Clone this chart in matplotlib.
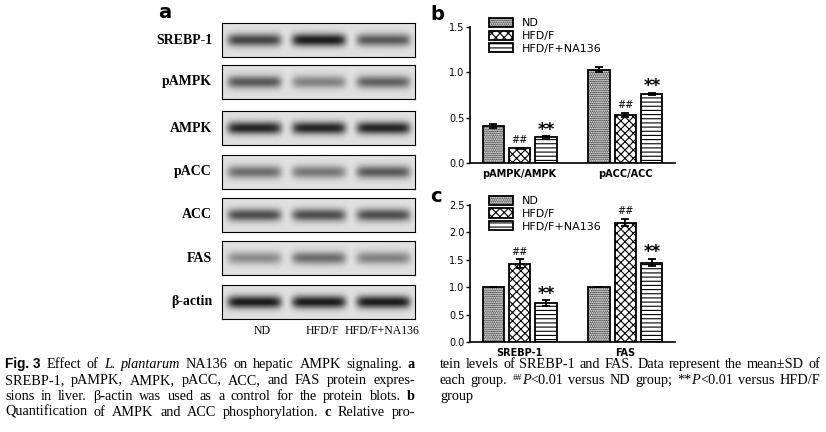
import numpy as np
import matplotlib.pyplot as plt

W, H = 826, 432
fig = plt.figure(figsize=(W / 100, H / 100), dpi=100)
fig.patch.set_facecolor('white')

def ax_px(x0, y0, x1, y1):
    return fig.add_axes([x0 / W, 1 - y1 / H, (x1 - x0) / W, (y1 - y0) / H])

# ---- panel a data: band intensity per lane (ND, HFD/F, HFD/F+NA136)
proteins = ['SREBP-1', 'pAMPK', 'AMPK', 'pACC', 'ACC', 'FAS', 'β-actin']
band_int = [[0.75, 0.95, 0.65],
            [0.65, 0.45, 0.6],
            [0.9, 0.9, 0.9],
            [0.55, 0.5, 0.65],
            [0.7, 0.7, 0.7],
            [0.4, 0.55, 0.45],
            [0.95, 0.95, 0.95]]
lanes = ['ND', 'HFD/F', 'HFD/F+NA136']
row_y = [40, 82, 128, 172, 215, 258, 302]

xs = np.linspace(0, 3, 300)
ys = np.linspace(-1, 1, 60)
X, Y = np.meshgrid(xs, ys)
for name, inten, yc in zip(proteins, band_int, row_y):
    ax = ax_px(222, yc - 17, 415, yc + 17)
    img = np.zeros_like(X)
    for i, v in enumerate(inten):
        img += v * np.exp(-((X - (i + 0.5)) / 0.42) ** 8) * np.exp(-(Y / 0.38) ** 2)
    ax.imshow(0.88 - 0.82 * img, cmap='gray', vmin=0, vmax=1, aspect='auto',
              extent=[0, 3, -1, 1])
    ax.set_xticks([]); ax.set_yticks([])
    for s in ax.spines.values():
        s.set_linewidth(0.8)
    fig.text(212 / W, 1 - yc / H, name, ha='right', va='center',
             family='Liberation Serif', weight='bold', fontsize=10)
for lx, lab in zip([262, 322, 382], lanes):
    fig.text(lx / W, 1 - 331 / H, lab, ha='center', va='center',
             family='Liberation Serif', fontsize=8.5)
fig.text(158 / W, 1 - 13 / H, 'a', weight='bold', fontsize=14, va='center')

# ---- panels b, c
groups = ['ND', 'HFD/F', 'HFD/F+NA136']
hatches = ['.........', 'xxxx', '----']
b_cats = ['pAMPK/AMPK', 'pACC/ACC']
b_vals = [[0.41, 1.03], [0.16, 0.53], [0.29, 0.76]]
b_err = [[0.02, 0.03], [0.01, 0.02], [0.01, 0.015]]
c_cats = ['SREBP-1', 'FAS']
c_vals = [[1.0, 1.0], [1.43, 2.18], [0.71, 1.45]]
c_err = [[0.0, 0.0], [0.08, 0.07], [0.06, 0.07]]

plt.rcParams['hatch.linewidth'] = 0.8

def bar_panel(ax, cats, vals, errs, ymax, yticks):
    x0 = np.array([0.0, 1.6])
    w = 0.4
    for g in range(3):
        xpos = x0 + g * w
        ax.bar(xpos, vals[g], w * 0.8, yerr=errs[g], color='white', edgecolor='black',
               hatch=hatches[g], linewidth=1.3, label=groups[g],
               error_kw=dict(capsize=3, elinewidth=1.3, capthick=1.3))
        for xp, v, e in zip(xpos, vals[g], errs[g]):
            if g == 1:
                ax.text(xp, v + e + ymax * 0.02, '##', ha='center', va='bottom', fontsize=7)
            if g == 2:
                ax.text(xp, v + e - ymax * 0.02, '**', ha='center', va='bottom',
                        fontsize=12, weight='bold')
    ax.set_xticks(x0 + w)
    ax.set_xticklabels(cats, fontsize=7, weight='bold')
    ax.set_xlim(-0.35, 2.75)
    ax.set_ylim(0, ymax)
    ax.set_yticks(yticks)
    ax.set_yticklabels(['%.1f' % t for t in yticks], fontsize=7)
    ax.spines['top'].set_visible(False)
    ax.spines['right'].set_visible(False)
    ax.spines['left'].set_linewidth(1.2)
    ax.spines['bottom'].set_linewidth(1.2)
    ax.tick_params(axis='x', bottom=False, pad=1)
    ax.tick_params(axis='y', length=3, width=1, pad=1)
    ax.legend(loc='upper left', bbox_to_anchor=(0.07, 1.1), frameon=False, fontsize=8,
              handlelength=2.2, handleheight=0.9, labelspacing=0.2, borderaxespad=0)

axb = ax_px(470, 27, 675, 163)
bar_panel(axb, b_cats, b_vals, b_err, 1.5, [0.0, 0.5, 1.0, 1.5])
fig.text(430 / W, 1 - 14 / H, 'b', weight='bold', fontsize=14, va='center')
axc = ax_px(470, 205, 675, 342)
bar_panel(axc, c_cats, c_vals, c_err, 2.5, [0.0, 0.5, 1.0, 1.5, 2.0, 2.5])
fig.text(430 / W, 1 - 196 / H, 'c', weight='bold', fontsize=14, va='center')

# ---- caption, justified word by word; style: r regular, b bold sans, bs bold serif, i italic, s superscript
left_lines = [
    [('Fig. 3', 'b'), ('Effect', 'r'), ('of', 'r'), ('L.', 'i'), ('plantarum', 'i'), ('NA136', 'r'),
     ('on', 'r'), ('hepatic', 'r'), ('AMPK', 'r'), ('signaling.', 'r'), ('a', 'bs')],
    [('SREBP-1,', 'r'), ('pAMPK,', 'r'), ('AMPK,', 'r'), ('pACC,', 'r'), ('ACC,', 'r'), ('and', 'r'),
     ('FAS', 'r'), ('protein', 'r'), ('expres-', 'r')],
    [('sions', 'r'), ('in', 'r'), ('liver.', 'r'), ('β-actin', 'r'), ('was', 'r'), ('used', 'r'), ('as', 'r'),
     ('a', 'r'), ('control', 'r'), ('for', 'r'), ('the', 'r'), ('protein', 'r'), ('blots.', 'r'), ('b', 'bs')],
    [('Quantification', 'r'), ('of', 'r'), ('AMPK', 'r'), ('and', 'r'), ('ACC', 'r'),
     ('phosphorylation.', 'r'), ('c', 'bs'), ('Relative', 'r'), ('pro-', 'r')],
]
right_lines = [
    [('tein', 'r'), ('levels', 'r'), ('of', 'r'), ('SREBP-1', 'r'), ('and', 'r'), ('FAS.', 'r'), ('Data', 'r'),
     ('represent', 'r'), ('the', 'r'), ('mean±SD', 'r'), ('of', 'r')],
    [('each', 'r'), ('group.', 'r'), ('##P<0.01', 'sp'), ('versus', 'r'), ('ND', 'r'), ('group;', 'r'),
     ('**P<0.01', 'ap'), ('versus', 'r'), ('HFD/F', 'r')],
    [('group', 'r')],
]

fig.canvas.draw()
rend = fig.canvas.get_renderer()
FS = 10.3

def put(x, y, txt, style):
    kw = dict(family='Liberation Serif', fontsize=FS, va='baseline')
    if style == 'b':
        kw.update(family='Liberation Sans', weight='bold', fontsize=FS - 0.5)
    elif style == 'bs':
        kw.update(weight='bold')
    elif style == 'i':
        kw.update(style='italic')
    return fig.text(x / W, 1 - y / H, txt, **kw)

def width(t):
    bb = t.get_window_extent(rend)
    return bb.width

def draw_word(x, y, txt, style):
    # returns list of text artists and total width
    parts = []
    if style == 'sp':
        parts = [(txt[:2], 'sup'), (txt[2], 'i'), (txt[3:], 'r')]
    elif style == 'ap':
        parts = [(txt[:2], 'r'), (txt[2], 'i'), (txt[3:], 'r')]
    else:
        parts = [(txt, style)]
    arts = []
    cx = x
    for p, st in parts:
        if st == 'sup':
            t = fig.text(cx / W, 1 - (y - 4) / H, p, family='Liberation Serif', fontsize=FS * 0.65,
                         va='baseline')
        else:
            t = put(cx, y, p, st)
        arts.append(t)
        cx += width(t)
    return arts, cx - x

def justify(lines, x0, x1, y0, last_ragged):
    for li, line in enumerate(lines):
        y = y0 + 16 * li
        items = []
        for txt, st in line:
            arts, w = draw_word(0, y, txt, st)
            items.append((arts, w))
        total = sum(w for _, w in items)
        ragged = last_ragged and li == len(lines) - 1
        gap = 3.0 if ragged or len(items) < 2 else (x1 - x0 - total) / (len(items) - 1)
        cx = x0
        for arts, w in items:
            for a in arts:
                px, py = a.get_position()
                a.set_x(px + cx / W)
            cx += w + gap

justify(left_lines, 5, 415, 368, False)
justify(right_lines, 440, 820, 368, True)

fig.savefig('out.png', dpi=100)
